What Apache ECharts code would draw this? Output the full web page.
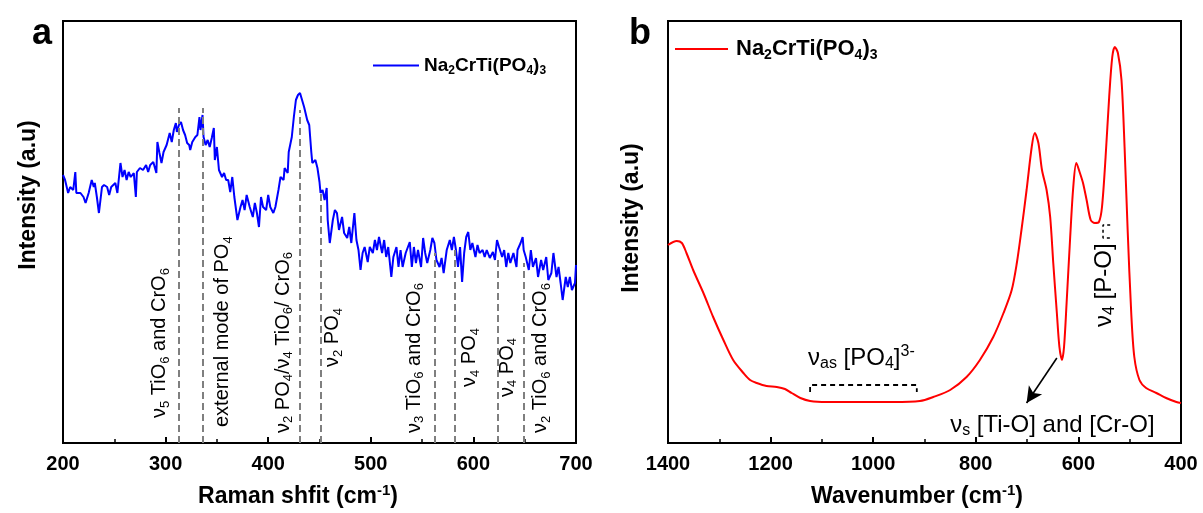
<!DOCTYPE html>
<html><head><meta charset="utf-8">
<script src="https://cdn.jsdelivr.net/npm/echarts@6/dist/echarts.min.js"></script>
<style>html,body{margin:0;padding:0;background:#fff}#c{width:1203px;height:513px}</style>
</head><body><div id="c"></div>
<script>
// ---------- DATA ----------
const ramanShift = [200,202,205,207,210,212,213,217,220,222,225,228,230,231,233,235,238,240,243,245,247,251,253,256,258,260,262,264,266,269,271,272,275,278,281,283,285,288,291,292,294,296,298,301,304,306,308,310,311,313,315,317,319,321,323,324,326,329,331,333,334,336,337,339,341,343,345,347,348,350,352,355,357,359,361,363,365,367,370,373,375,377,379,382,385,387,389,391,393,395,398,400,402,405,407,410,412,415,416,419,420,423,425,427,429,431,433,435,438,440,442,443,446,448,450,451,453,455,457,458,460,463,465,467,469,472,474,477,479,481,484,486,488,490,492,494,497,499,502,504,506,508,511,513,515,517,520,522,525,527,529,531,534,538,540,542,544,546,549,551,553,555,558,560,562,564,567,569,571,574,577,579,581,583,585,587,589,591,593,595,597,599,602,604,606,609,611,613,616,619,621,623,625,628,630,632,634,636,639,642,643,646,648,649,651,654,656,658,661,663,666,668,671,673,676,678,681,683,685,687,690,692,694,696,699,700];
const ramanIntensity = [268,263,250,256,253,271,250,250,246,240,250,263,256,260,246,230,256,258,256,248,256,260,250,280,266,273,263,271,266,270,246,271,275,273,278,271,278,281,270,301,290,280,291,298,310,301,313,320,311,318,321,313,308,300,298,293,301,306,308,326,313,328,306,298,303,296,305,315,283,296,273,266,270,263,263,251,266,246,223,236,243,233,248,236,226,240,230,216,246,236,233,248,236,230,236,253,266,263,275,270,291,306,326,343,348,350,343,336,323,318,291,280,283,275,261,250,253,243,255,223,200,223,233,230,213,226,210,205,216,200,230,203,193,173,190,196,181,196,190,203,193,206,190,203,186,196,166,186,196,176,193,176,190,201,176,196,180,193,176,205,190,180,193,205,200,183,176,185,170,193,203,193,206,193,176,196,161,190,206,211,193,200,186,198,190,193,186,193,185,191,183,203,196,186,193,176,190,180,190,176,193,200,206,193,186,173,193,176,185,166,183,173,186,163,170,190,166,176,160,143,166,156,166,153,160,178];
const irWavenumber = [1400,1383,1373,1364,1351,1331,1312,1292,1273,1253,1240,1227,1208,1188,1172,1159,1142,1123,1091,1026,961,909,883,850,818,792,766,746,730,720,711,701,691,685,678,671,662,655,649,642,637,632,628,623,616,610,604,597,591,584,576,568,560,554,547,540,534,529,523,516,510,504,497,491,481,468,448,429,409,400];
const irIntensity = [198,202,200,190,173,150,126,103,83,70,63,60,57,56,54,50,45,42,41,41,41,42,46,53,66,83,106,130,153,180,213,253,296,310,300,273,253,226,180,130,96,83,96,140,206,256,280,270,260,243,223,220,221,236,286,346,386,396,390,363,296,213,130,86,63,55,50,45,41,40];
const ramanBandPositions = [313,336,431,451,562,582,624,649];
const ramanBandTop = [335,335,333,250,190,193,186,180];
const ramanBandLabels = [
  '{n|ν}{s|5}{n| TiO}{s|6}{n| and CrO}{s|6}',
  '{n|external mode of PO}{s|4}',
  '{n|ν}{s|2}{n| PO}{s|4}{n|/ν}{s|4}{n| TiO}{s|6}{n|/ CrO}{s|6}',
  '{n|ν}{s|2}{n| PO}{s|4}',
  '{n|ν}{s|3}{n| TiO}{s|6}{n| and CrO}{s|6}',
  '{n|ν}{s|4}{n| PO}{s|4}',
  '{n|ν}{s|4}{n| PO}{s|4}',
  '{n|ν}{s|2}{n| TiO}{s|6}{n| and CrO}{s|6}'
];
const compoundName = '{n|Na}{s|2}{n|CrTi(PO}{s|4}{n|)}{s|3}';
const xTitleA = '{n|Raman shfit (cm}{p|-1}{n|)}';
const xTitleB = '{n|Wavenumber (cm}{p|-1}{n|)}';
const yTitle = 'Intensity (a.u)';
const irLabelAs = '{n|ν}{s|as}{n| [PO}{s|4}{n|]}{p|3-}';
const irLabelS = '{n|ν}{s|s}{n| [Ti-O] and [Cr-O]}';
const irLabelPO = '{n|ν}{s|4}{n| [P-O]}';

// ---------- LAYOUT ----------
const FONT = '"Liberation Sans", Arial, sans-serif';
const bandLabelLayout = [[-19,25],[20,16],[-17,10],[12,76],[-20,10],[15,56],[9,46],[17,10]];
const asBracket = [[1123,51],[1123,58],[915,58],[915,51]];
const poBracket = [[538,218],[552,218],[552,205],[538,205]];
const arrowFrom = [642,85], arrowTo = [701,40];

const chart = echarts.init(document.getElementById('c'));

function axisX(grid, min, max, interval, inverse){
  return {gridIndex:grid, type:'value', min:min, max:max, interval:interval, inverse:inverse,
    axisLine:{show:true, onZero:false, lineStyle:{color:'#000', width:2}},
    axisTick:{show:true, inside:true, length:6, lineStyle:{color:'#000', width:2}},
    minorTick:{show:true, splitNumber:2, length:4, lineStyle:{color:'#000', width:1.5}},
    splitLine:{show:false},
    axisLabel:{color:'#000', fontWeight:'bold', fontSize:20, fontFamily:FONT, margin:11, formatter:(v)=>String(v)}};
}
function axisY(grid){
  return {gridIndex:grid, type:'value', min:0, max:422,
    axisLine:{show:true, onZero:false, lineStyle:{color:'#000', width:2}},
    axisTick:{show:false}, axisLabel:{show:false}, splitLine:{show:false}};
}
const legRich = (fs)=>({
  n:{fontSize:fs, fontWeight:'bold', fontFamily:FONT, color:'#000', lineHeight:fs+4, verticalAlign:'middle'},
  s:{fontSize:Math.round(fs*0.62), fontWeight:'bold', fontFamily:FONT, color:'#000', lineHeight:Math.round(fs*0.6), padding:[Math.round(fs*0.45),0,0,0], verticalAlign:'bottom'}
});

const option = {
  animation:false,
  backgroundColor:'#fff',
  grid:[
    {left:63, top:21, width:513, height:422, show:true, borderColor:'#000', borderWidth:2},
    {left:668, top:21, width:513, height:422, show:true, borderColor:'#000', borderWidth:2}
  ],
  xAxis:[axisX(0,200,700,100,false), axisX(1,400,1400,200,true)],
  yAxis:[axisY(0), axisY(1)],
  legend:[
    {data:['raman'], left:368, top:51, icon:'rect', itemWidth:46, itemHeight:2, formatter:()=>compoundName,
      textStyle:{rich:legRich(19)}},
    {data:['ftir'], left:670, top:33, icon:'rect', itemWidth:53, itemHeight:2, formatter:()=>compoundName,
      textStyle:{padding:[0,0,0,3], rich:legRich(22)}}
  ],
  series:[
    {type:'line', name:'raman', xAxisIndex:0, yAxisIndex:0, symbol:'none', showSymbol:false,
      data: ramanShift.map((x,i)=>[x, ramanIntensity[i]]),
      lineStyle:{color:'#0000ff', width:2}, itemStyle:{color:'#0000ff'}, z:3,
      markLine:{silent:true, symbol:'none', label:{show:false},
        lineStyle:{color:'#7f7f7f', width:2, type:[7,4]},
        data: ramanBandPositions.map((v,i)=>[{coord:[v,0]},{coord:[v,ramanBandTop[i]]}])}
    },
    {type:'line', name:'ftir', xAxisIndex:1, yAxisIndex:1, symbol:'none', showSymbol:false, smooth:0.3,
      data: irWavenumber.map((x,i)=>[x, irIntensity[i]]),
      lineStyle:{color:'#ff0000', width:2}, itemStyle:{color:'#ff0000'}, z:3,
      markLine:{silent:true, symbol:['none','arrow'], symbolSize:[12,16], label:{show:false},
        lineStyle:{color:'#000', width:1.6, type:'solid'},
        data:[[{coord:arrowFrom},{coord:arrowTo}]]}
    },
    {type:'line', name:'asBracket', xAxisIndex:1, yAxisIndex:1, symbol:'none', silent:true,
      data:asBracket, lineStyle:{color:'#000', width:1.8, type:[5,4]}},
    {type:'line', name:'poBracket', xAxisIndex:1, yAxisIndex:1, symbol:'none', silent:true,
      data:poBracket, lineStyle:{color:'#000', width:1.5, type:[3,3]}}
  ]
};
chart.setOption(option);

// ---------- ANNOTATIONS ----------
const annRich = (fs, w)=>({
  n:{fontSize:fs, fontWeight:w, fontFamily:FONT, color:'#000', lineHeight:fs+4, verticalAlign:'middle'},
  s:{fontSize:Math.round(fs*0.65), fontWeight:w, fontFamily:FONT, color:'#000', lineHeight:Math.round(fs*0.6), padding:[Math.round(fs*0.45),0,0,0], verticalAlign:'bottom'},
  p:{fontSize:Math.round(fs*0.65), fontWeight:w, fontFamily:FONT, color:'#000', lineHeight:Math.round(fs*0.6), padding:[0,0,Math.round(fs*0.45),0], verticalAlign:'top'}
});
const P = (g, pt)=>chart.convertToPixel({gridIndex:g}, pt);
const g = [];
ramanBandPositions.forEach((v,i)=>{
  const p = P(0,[v, bandLabelLayout[i][1]]);
  g.push({type:'text', x:p[0]+bandLabelLayout[i][0], y:p[1], rotation:Math.PI/2, silent:true,
    style:{text:ramanBandLabels[i], rich:annRich(20,'normal'), align:'left', verticalAlign:'middle'}});
});
const pAs = P(1,[1127,85]);
g.push({type:'text', x:pAs[0], y:pAs[1], silent:true, style:{text:irLabelAs, rich:annRich(24,'normal'), align:'left', verticalAlign:'middle'}});
const pS = P(1,[850,18]);
g.push({type:'text', x:pS[0], y:pS[1], silent:true, style:{text:irLabelS, rich:annRich(24,'normal'), align:'left', verticalAlign:'middle'}});
const pPO = P(1,[550,116]);
g.push({type:'text', x:pPO[0], y:pPO[1], rotation:Math.PI/2, silent:true, style:{text:irLabelPO, rich:annRich(24,'normal'), align:'left', verticalAlign:'middle'}});
g.push({type:'text', x:298, y:497, silent:true, style:{text:xTitleA, rich:annRich(23,'bold'), align:'center', verticalAlign:'middle'}});
g.push({type:'text', x:917, y:497, silent:true, style:{text:xTitleB, rich:annRich(23,'bold'), align:'center', verticalAlign:'middle'}});
g.push({type:'text', x:29, y:195, rotation:Math.PI/2, silent:true, style:{text:yTitle, font:'bold 23px '+FONT, fill:'#000', align:'center', verticalAlign:'middle'}});
g.push({type:'text', x:632, y:218, rotation:Math.PI/2, silent:true, style:{text:yTitle, font:'bold 23px '+FONT, fill:'#000', align:'center', verticalAlign:'middle'}});
g.push({type:'text', x:42, y:34, silent:true, style:{text:'a', font:'bold 36px '+FONT, fill:'#000', align:'center', verticalAlign:'middle'}});
g.push({type:'text', x:640, y:34, silent:true, style:{text:'b', font:'bold 36px '+FONT, fill:'#000', align:'center', verticalAlign:'middle'}});
chart.setOption({graphic:g});
</script></body></html>
